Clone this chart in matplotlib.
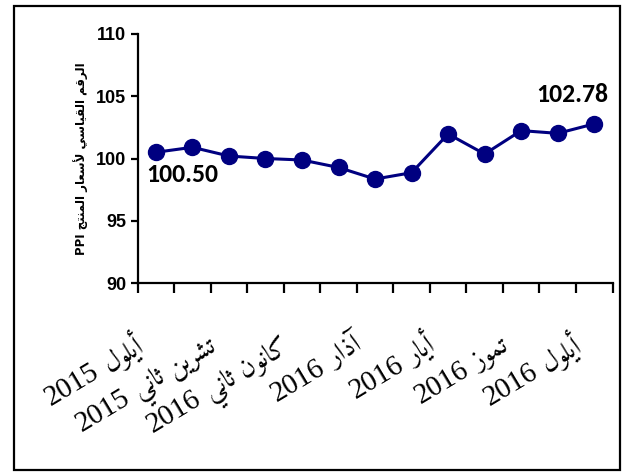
import math
import matplotlib
matplotlib.use("Agg")
import matplotlib.pyplot as plt
from matplotlib.patches import Rectangle
from matplotlib import font_manager as fm

# ---------------- data ----------------
months_idx = list(range(13))
values = [100.50, 100.90, 100.20, 100.00, 99.88, 99.28, 98.35, 98.86,
          101.97, 100.36, 102.24, 102.02, 102.78]
label_positions = [0, 2, 4, 6, 8, 10, 12]
label_months = ["أيلول", "تشرين ثاني", "كانون ثاني", "آذار", "أيار", "تموز", "أيلول"]
label_years = ["2015", "2015", "2016", "2016", "2016", "2016", "2016"]
y_ticks = [90, 95, 100, 105, 110]
y_label_ar = "الرقم القياسي لأسعار المنتج"
y_label_en = "PPI"
first_label = "100.50"
last_label = "102.78"


def pick(cands):
    for c in cands:
        try:
            fm.findfont(fm.FontProperties(family=c), fallback_to_default=False)
            return c
        except Exception:
            pass
    return "DejaVu Sans"


AR_FONT = pick(["Amiri", "Noto Naskh Arabic", "DejaVu Sans"])
NUM_FONT = pick(["Liberation Serif", "DejaVu Serif"])
LBL_FONT = pick(["Carlito", "Lato"])

# ---------------- minimal Arabic shaping ----------------
FORMS = {  # iso, fin, ini, med (None for right-joining letters)
    'ا': (0xFE8D, 0xFE8E, None, None),
    'أ': (0xFE83, 0xFE84, None, None),
    'آ': (0xFE81, 0xFE82, None, None),
    'ت': (0xFE95, 0xFE96, 0xFE97, 0xFE98),
    'ث': (0xFE99, 0xFE9A, 0xFE9B, 0xFE9C),
    'ج': (0xFE9D, 0xFE9E, 0xFE9F, 0xFEA0),
    'ذ': (0xFEAB, 0xFEAC, None, None),
    'ر': (0xFEAD, 0xFEAE, None, None),
    'ز': (0xFEAF, 0xFEB0, None, None),
    'س': (0xFEB1, 0xFEB2, 0xFEB3, 0xFEB4),
    'ش': (0xFEB5, 0xFEB6, 0xFEB7, 0xFEB8),
    'ع': (0xFEC9, 0xFECA, 0xFECB, 0xFECC),
    'ق': (0xFED5, 0xFED6, 0xFED7, 0xFED8),
    'ك': (0xFED9, 0xFEDA, 0xFEDB, 0xFEDC),
    'ل': (0xFEDD, 0xFEDE, 0xFEDF, 0xFEE0),
    'م': (0xFEE1, 0xFEE2, 0xFEE3, 0xFEE4),
    'ن': (0xFEE5, 0xFEE6, 0xFEE7, 0xFEE8),
    'و': (0xFEED, 0xFEEE, None, None),
    'ي': (0xFEF1, 0xFEF2, 0xFEF3, 0xFEF4),
    'LA': (0xFEFB, 0xFEFC, None, None),
    'LAH': (0xFEF7, 0xFEF8, None, None),
    'LAM': (0xFEF5, 0xFEF6, None, None),
}


def shape_ar(text):
    toks = []
    i = 0
    while i < len(text):
        c = text[i]
        if c == 'ل' and i + 1 < len(text) and text[i + 1] in 'اأآ':
            toks.append({'ا': 'LA', 'أ': 'LAH', 'آ': 'LAM'}[text[i + 1]])
            i += 2
        else:
            toks.append(c)
            i += 1
    out = []
    for k, t in enumerate(toks):
        if t not in FORMS:
            out.append(t)
            continue
        iso, fin, ini, med = FORMS[t]
        prev = toks[k - 1] if k > 0 else None
        nxt = toks[k + 1] if k + 1 < len(toks) else None
        jp = prev in FORMS and FORMS[prev][2] is not None
        jn = ini is not None and nxt in FORMS
        if jp and jn:
            ch = med
        elif jp:
            ch = fin
        elif jn:
            ch = ini
        else:
            ch = iso
        out.append(chr(ch))
    return ''.join(out)[::-1]


# ---------------- figure ----------------
W, H = 625, 476
DPI = 100
fig = plt.figure(figsize=(W / DPI, H / DPI), dpi=DPI)
fig.patch.set_facecolor("white")
fig.patches.append(Rectangle((14 / W, 1 - 470 / H), 606 / W, 464 / H,
                             transform=fig.transFigure, fill=False,
                             edgecolor="black", linewidth=1.6))

ax = fig.add_axes([137.6 / W, 1 - 283 / H, (612.5 - 137.6) / W, (283 - 34) / H])
navy = "#000080"
ax.plot(months_idx, values, color=navy, linewidth=2.2, marker="o",
        markersize=11.5, markerfacecolor=navy, markeredgecolor=navy, zorder=3)

ax.set_xlim(-0.5, 12.5)
ax.set_ylim(90, 110)
ax.set_yticks(y_ticks)
ax.set_yticklabels([str(v) for v in y_ticks], fontsize=13, fontweight="bold",
                   family="Liberation Sans")
ax.set_xticks([i - 0.5 for i in range(14)])
ax.set_xticklabels([])
ax.tick_params(axis="x", which="major", direction="out", length=7, width=1.6)
ax.tick_params(axis="y", direction="out", length=5, width=1.6, pad=3)

for s in ["top", "right"]:
    ax.spines[s].set_visible(False)
for s in ["left", "bottom"]:
    ax.spines[s].set_linewidth(1.6)

# ---- rotated two-font category labels ----
ROT = 31.0
AR_SIZE = 19.5
NUM_SIZE = 21
renderer = fig.canvas.get_renderer()
px2pt = 72.0 / DPI
cs, sn = math.cos(math.radians(ROT)), math.sin(math.radians(ROT))
anchor_dx, anchor_dy = -11.0, -67.0   # px from category centre / axis bottom
xform = ax.get_xaxis_transform()
for pos, mon, yr in zip(label_positions, label_months, label_years):
    mtxt = shape_ar(mon)
    probe = fig.text(0, 0, mtxt, fontsize=AR_SIZE, family=AR_FONT)
    wm = probe.get_window_extent(renderer).width
    probe.remove()
    gap = NUM_SIZE * 0.3 / px2pt
    ax.annotate(mtxt, (pos, 0), xycoords=xform,
                xytext=(anchor_dx * px2pt, anchor_dy * px2pt),
                textcoords="offset points", rotation=ROT, rotation_mode="anchor",
                ha="right", va="baseline", fontsize=AR_SIZE, family=AR_FONT,
                annotation_clip=False)
    d = wm + gap
    ax.annotate(yr, (pos, 0), xycoords=xform,
                xytext=((anchor_dx - d * cs) * px2pt, (anchor_dy - d * sn) * px2pt),
                textcoords="offset points", rotation=ROT, rotation_mode="anchor",
                ha="right", va="baseline", fontsize=NUM_SIZE, family=NUM_FONT,
                annotation_clip=False)

ax.set_ylabel(y_label_en + " " + shape_ar(y_label_ar), fontsize=8.5,
              fontweight="bold", family="DejaVu Sans", labelpad=6)

ax.annotate(first_label, (months_idx[0], values[0]), xytext=(-7, -8),
            textcoords="offset points", ha="left", va="top",
            fontsize=18.5, fontweight="bold", family=LBL_FONT, color="black")
ax.annotate(last_label, (months_idx[-1], values[-1]), xytext=(-16, 13),
            textcoords="offset points", ha="center", va="bottom",
            fontsize=18.5, fontweight="bold", family=LBL_FONT, color="black")

fig.savefig("out.png", dpi=DPI, facecolor="white")
